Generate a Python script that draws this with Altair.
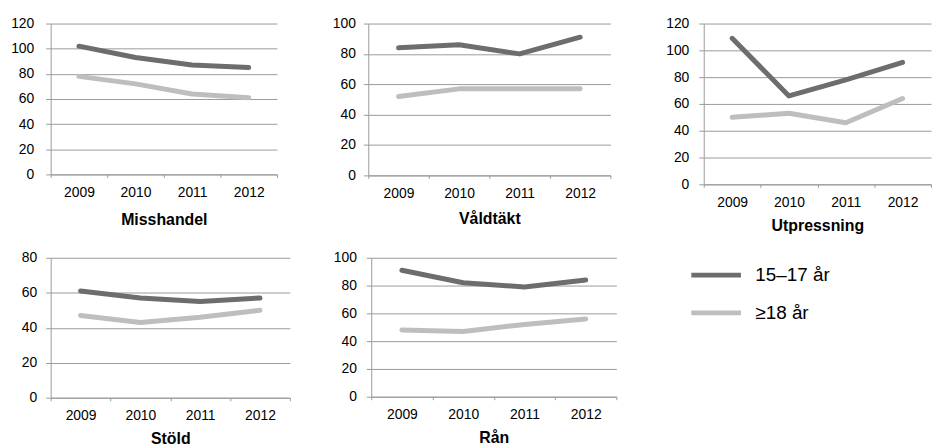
import altair as alt
import pandas as pd

years = ["2009", "2010", "2011", "2012"]
groups = ["15–17 år", "≥18 år"]
colors = ["#6d6d6d", "#bebebe"]

misshandel_young = [102, 93, 87, 85]
misshandel_adult = [78, 72, 64, 61]
valdtakt_young = [84, 86, 80, 91]
valdtakt_adult = [52, 57, 57, 57]
utpressning_young = [109, 66, 78, 91]
utpressning_adult = [50, 53, 46, 64]
stold_young = [61, 57, 55, 57]
stold_adult = [47, 43, 46, 50]
ran_young = [91, 82, 79, 84]
ran_adult = [48, 47, 52, 56]

FONT = "Liberation Sans"
GRID = "#9a9a9a"

legend = alt.Legend(
    title=None,
    orient="none",
    legendX=643,
    legendY=226,
    symbolType="stroke",
    symbolSize=2500,
    symbolStrokeWidth=5,
    labelFontSize=19,
    labelFont=FONT,
    labelColor="black",
    labelOffset=12,
    rowPadding=-13,
)


def panel(title, young, adult, ymax, width, height, label_pad, title_pad, min_extent=0):
    df = pd.DataFrame({
        "year": years * 2,
        "group": [groups[0]] * len(years) + [groups[1]] * len(years),
        "value": young + adult,
    })
    return alt.Chart(df).mark_line(
        strokeWidth=5, strokeCap="round", strokeJoin="round"
    ).encode(
        x=alt.X(
            "year:O",
            bandPosition=0.5,
            scale=alt.Scale(type="band", paddingInner=0, paddingOuter=0),
            axis=alt.Axis(
                title=title, labelAngle=0, tickBand="extent", tickSize=3,
                labelPadding=8, titlePadding=title_pad, grid=False,
            ),
        ),
        y=alt.Y(
            "value:Q",
            scale=alt.Scale(domain=[0, ymax], nice=False),
            axis=alt.Axis(
                title=None, values=list(range(0, ymax + 1, 20)), tickSize=5,
                labelPadding=label_pad, grid=True, minExtent=min_extent,
            ),
        ),
        color=alt.Color(
            "group:N",
            scale=alt.Scale(domain=groups, range=colors),
            legend=legend,
        ),
    ).properties(width=width, height=height)


p1 = panel("Misshandel", misshandel_young, misshandel_adult, 120, 228, 152, 12, 12)
p2 = panel("Våldtäkt", valdtakt_young, valdtakt_adult, 100, 244, 153, 8, 10)
p3 = panel("Utpressning", utpressning_young, utpressning_adult, 120, 229, 162, 10, 9)
p4 = panel("Stöld", stold_young, stold_adult, 80, 241, 141, 9, 8, 37)
p5 = panel("Rån", ran_young, ran_adult, 100, 247, 140, 10, 8)

row1 = alt.hconcat(p1, p2, p3, spacing=54)
row2 = alt.hconcat(p4, p5, spacing=42)

chart = alt.vconcat(row1, row2, spacing=17).properties(
    padding={"left": 2, "top": 7, "right": 0, "bottom": 0}
).configure_axis(
    domainColor=GRID,
    gridColor=GRID,
    tickColor=GRID,
    labelColor="black",
    titleColor="black",
    labelFont=FONT,
    titleFont=FONT,
    labelFontSize=14,
    titleFontSize=16,
    titleFontWeight="bold",
).configure_view(stroke=None)

chart.save("out.html", embed_options={"renderer": "svg", "actions": False})
